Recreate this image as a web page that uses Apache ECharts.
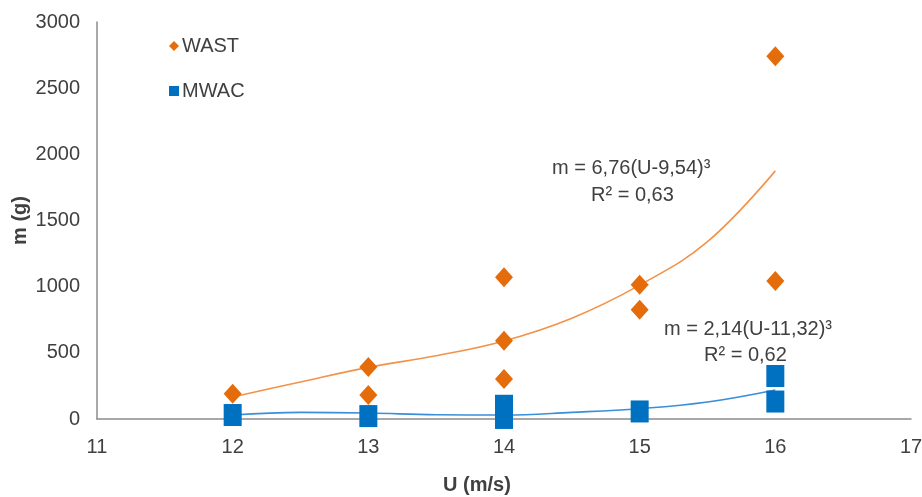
<!DOCTYPE html>
<html>
<head>
<meta charset="utf-8">
<script src="https://cdn.jsdelivr.net/npm/echarts@6/dist/echarts.min.js"></script>
<style>
html,body{margin:0;padding:0;background:#fff;}
#chart{width:922px;height:497px;}
</style>
</head>
<body>
<div id="chart"></div>
<script>
// ---- data ----
const wastU = [12, 13, 13, 14, 14, 14, 15, 15, 16, 16];
const wastM = [190, 393, 181, 1072, 592, 302, 1015, 825, 2742, 1042];
const mwacU = [12, 13, 14, 14, 15, 16, 16];
const mwacM = [30, 22, 100, 8, 57, 325, 132];
// fitted trend curves at these U values
const trendU = [12, 12.5, 13, 13.5, 14, 14.5, 15, 15.5, 16];
const wastTrend = [166, 280, 390, 478, 590, 762, 1012, 1340, 1875];
const mwacTrend = [30, 50, 45, 32, 30, 50, 78, 128, 219];
const xTicks = [11, 12, 13, 14, 15, 16, 17];
const yTicks = [0, 500, 1000, 1500, 2000, 2500, 3000];
const wastEq = 'm = 6,76(U-9,54)³';
const wastR2 = 'R² = 0,63';
const mwacEq = 'm = 2,14(U-11,32)³';
const mwacR2 = 'R² = 0,62';

const pairs = (xs, ys) => xs.map((x, i) => [x, ys[i]]);
const FONT = 'Liberation Sans, Arial, sans-serif';
const TXT = '#404040';
const FS = 20;

const chart = echarts.init(document.getElementById('chart'), null, {renderer: 'canvas'});
chart.setOption({
  animation: false,
  backgroundColor: '#ffffff',
  textStyle: {fontFamily: FONT},
  grid: {left: 97, right: 11, top: 22, bottom: 78, containLabel: false, outerBoundsMode: 'none'},
  legend: {
    orient: 'vertical', left: 164, top: 31,
    itemWidth: 10, itemHeight: 10, itemGap: 25,
    data: [{name: 'WAST', icon: 'diamond'}, {name: 'MWAC', icon: 'rect'}],
    textStyle: {fontFamily: FONT, fontSize: FS, color: TXT, padding: [0, 0, 0, -2]}
  },
  xAxis: {
    type: 'value', min: xTicks[0], max: xTicks[xTicks.length - 1], interval: 1,
    name: 'U (m/s)', nameLocation: 'middle', nameGap: 56, nameMoveOverlap: false,
    nameTextStyle: {fontFamily: FONT, fontSize: FS, fontWeight: 'bold', color: TXT, padding: [0, 54, 0, 0]},
    axisLine: {show: true, lineStyle: {color: '#8c8c8c', width: 1.5}},
    axisTick: {show: false},
    splitLine: {show: false},
    axisLabel: {fontFamily: FONT, fontSize: FS, color: TXT, margin: 18, formatter: v => String(v)}
  },
  yAxis: {
    type: 'value', min: yTicks[0], max: yTicks[yTicks.length - 1], interval: 500,
    name: 'm (g)', nameLocation: 'middle', nameGap: 67, nameRotate: 90, nameMoveOverlap: false,
    nameTextStyle: {fontFamily: FONT, fontSize: FS, fontWeight: 'bold', color: TXT},
    axisLine: {show: true, lineStyle: {color: '#8c8c8c', width: 1.5}},
    axisTick: {show: false},
    splitLine: {show: false},
    axisLabel: {fontFamily: FONT, fontSize: FS, color: TXT, margin: 17, formatter: v => String(v)}
  },
  series: [
    {
      name: 'WAST trend', type: 'line', data: pairs(trendU, wastTrend),
      smooth: 0.4, symbol: 'none', z: 2,
      lineStyle: {color: '#F39248', width: 1.6}, silent: true
    },
    {
      name: 'MWAC trend', type: 'line', data: pairs(trendU, mwacTrend),
      smooth: 0.4, symbol: 'none', z: 2,
      lineStyle: {color: '#3A8FD8', width: 1.6}, silent: true
    },
    {
      name: 'WAST', type: 'scatter', data: pairs(wastU, wastM),
      symbol: 'diamond', symbolSize: [18, 20], z: 3,
      itemStyle: {color: '#E46C0A', opacity: 1}
    },
    {
      name: 'MWAC', type: 'scatter', data: pairs(mwacU, mwacM),
      symbol: 'rect', symbolSize: [18, 22], z: 4,
      itemStyle: {color: '#0070C0', opacity: 1}
    }
  ],
  graphic: [
    {type: 'text', left: 552, top: 158, z: 10,
      style: {text: wastEq, fontFamily: FONT, fontSize: FS, fill: TXT}},
    {type: 'text', left: 591, top: 185, z: 10,
      style: {text: wastR2, fontFamily: FONT, fontSize: FS, fill: TXT}},
    {type: 'text', left: 664, top: 319, z: 10,
      style: {text: mwacEq, fontFamily: FONT, fontSize: FS, fill: TXT}},
    {type: 'text', left: 704, top: 345, z: 1,
      style: {text: mwacR2, fontFamily: FONT, fontSize: FS, fill: TXT}}
  ]
});
</script>
</body>
</html>
